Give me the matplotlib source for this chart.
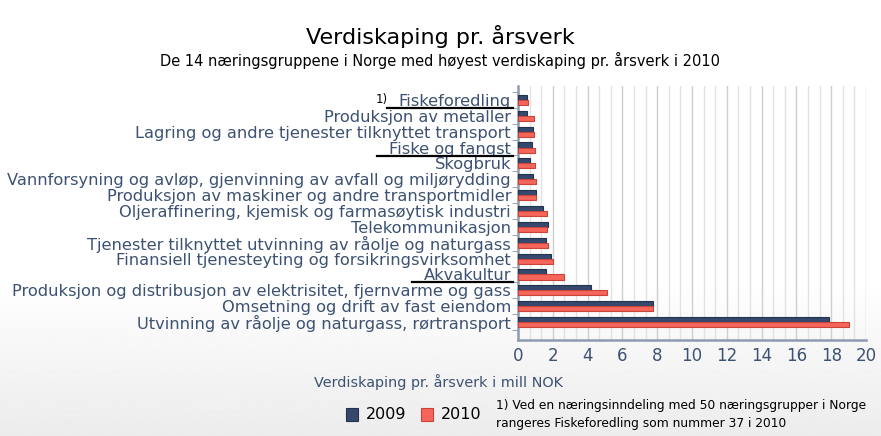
import matplotlib
matplotlib.use("Agg")
import matplotlib.pyplot as plt
import numpy as np

categories = [
    "Fiskeforedling",
    "Produksjon av metaller",
    "Lagring og andre tjenester tilknyttet transport",
    "Fiske og fangst",
    "Skogbruk",
    "Vannforsyning og avløp, gjenvinning av avfall og miljørydding",
    "Produksjon av maskiner og andre transportmidler",
    "Oljeraffinering, kjemisk og farmasøytisk industri",
    "Telekommunikasjon",
    "Tjenester tilknyttet utvinning av råolje og naturgass",
    "Finansiell tjenesteyting og forsikringsvirksomhet",
    "Akvakultur",
    "Produksjon og distribusjon av elektrisitet, fjernvarme og gass",
    "Omsetning og drift av fast eiendom",
    "Utvinning av råolje og naturgass, rørtransport",
]
values_2009 = [0.54, 0.52, 0.88, 0.79, 0.67, 0.88, 1.02, 1.44, 1.72, 1.59, 1.88, 1.59, 4.18, 7.74, 17.87]
values_2010 = [0.55, 0.90, 0.92, 1.00, 1.00, 1.02, 1.03, 1.65, 1.69, 1.72, 2.01, 2.66, 5.10, 7.74, 19.00]
series_names = ["2009", "2010"]
underlined = ["Fiskeforedling", "Fiske og fangst", "Akvakultur"]
xticks = [0, 2, 4, 6, 8, 10, 12, 14, 16, 18, 20]

W, H = 881, 436
fig = plt.figure(figsize=(W / 100, H / 100), dpi=100)

# background gradient
bg = fig.add_axes([0, 0, 1, 1], zorder=-10)
grad = np.ones((H, 1))
yy = np.arange(H)
start = 280
grad[yy > start, 0] = 1 - 0.075 * (yy[yy > start] - start) / (H - start)
bg.imshow(grad, aspect="auto", cmap="gray", vmin=0, vmax=1, extent=[0, 1, 0, 1])
bg.axis("off")

label_col = "#3d5272"
top_px, bot_px = 86, 340
ax = fig.add_axes([518 / W, 1 - bot_px / H, (866 - 518) / W, (bot_px - top_px) / H])
ax.set_facecolor("none")

n = len(categories)
y = np.arange(n)
h = 0.32
ax.barh(y - h / 2, values_2009, height=h, color="#34496d", edgecolor="#223350", linewidth=0.8, zorder=3)
ax.barh(y + h / 2, values_2010, height=h, color="#f5655a", edgecolor="#c8443b", linewidth=0.8, zorder=3)

ax.set_ylim(n - 1 + 1.13, -0.88)
ax.set_xlim(0, 20)

# gridlines
for gx in np.arange(2 / 3, 20.01, 2 / 3):
    major = abs(gx / 2 - round(gx / 2)) < 1e-6
    ax.axvline(gx, color="#cfcfcf" if major else "#e2e2e2", lw=1.0, zorder=1)

ax.set_xticks(xticks)
ax.set_xticklabels([str(t) for t in xticks], fontsize=12, color=label_col)
ax.set_yticks(y)
ax.set_yticklabels(categories, fontsize=11.7, color=label_col)
ax.set_yticks(np.arange(-0.5, n, 1), minor=True)
ax.tick_params(axis="y", which="major", length=0, pad=5)
ax.tick_params(axis="y", which="minor", length=4, color="#8a96a8")
ax.tick_params(axis="x", length=0, pad=5)

for s in ["top", "right"]:
    ax.spines[s].set_visible(False)
for s in ["left", "bottom"]:
    ax.spines[s].set_color("#8e9bb0")
    ax.spines[s].set_linewidth(1.8)

# underline selected labels and footnote mark
fig.canvas.draw()
renderer = fig.canvas.get_renderer()
inv = fig.transFigure.inverted()
for lbl in ax.get_yticklabels():
    if lbl.get_text() in underlined:
        bb = lbl.get_window_extent(renderer)
        x0, y0 = inv.transform((bb.x0 - 12, bb.y0 + 1))
        x1, _ = inv.transform((bb.x1 + 2, bb.y0))
        fig.add_artist(plt.Line2D([x0, x1], [y0, y0], color="black", lw=1.6))
        if lbl.get_text() == "Fiskeforedling":
            fig.text(x0 + 0.001, inv.transform((0, bb.y0 + 3))[1], "1)", fontsize=8.5,
                     color="black", ha="right", va="bottom")

fig.text(0.5, 1 - 36 / H, "Verdiskaping pr. årsverk", fontsize=16, ha="center", va="center", color="black")
fig.text(0.5, 1 - 60 / H, "De 14 næringsgruppene i Norge med høyest verdiskaping pr. årsverk i 2010",
         fontsize=10.5, ha="center", va="center", color="black")
fig.text(439 / W, 1 - 382 / H, "Verdiskaping pr. årsverk i mill NOK", fontsize=10.4, ha="center",
         va="center", color=label_col)

# legend
fig.patches.append(plt.Rectangle((346 / W, 1 - 421 / H), 12 / W, 13 / H, transform=fig.transFigure,
                                 facecolor="#34496d", edgecolor="#223350", lw=0.8))
fig.text(366 / W, 1 - 414 / H, series_names[0], fontsize=11.5, va="center", color="black")
fig.patches.append(plt.Rectangle((421 / W, 1 - 421 / H), 12 / W, 13 / H, transform=fig.transFigure,
                                 facecolor="#f5655a", edgecolor="#c8443b", lw=0.8))
fig.text(441 / W, 1 - 414 / H, series_names[1], fontsize=11.5, va="center", color="black")
fig.text(496 / W, 1 - 405 / H, "1) Ved en næringsinndeling med 50 næringsgrupper i Norge", fontsize=8.8,
         va="center", color="black")
fig.text(496 / W, 1 - 423 / H, "rangeres Fiskeforedling som nummer 37 i 2010", fontsize=8.8,
         va="center", color="black")

fig.savefig("out.png", dpi=100)
